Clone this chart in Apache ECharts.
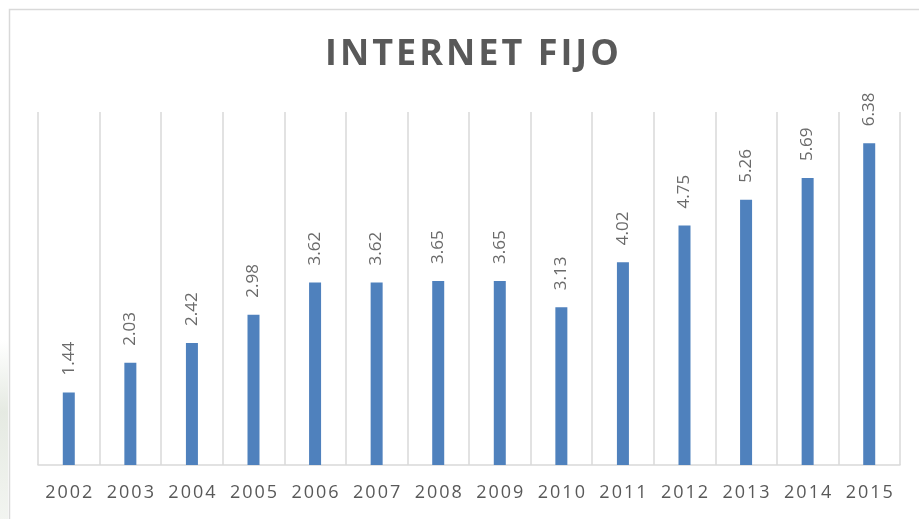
<!DOCTYPE html>
<html>
<head>
    <meta charset="utf-8">
    <title>Internet fijo</title>
    <script src="https://cdn.jsdelivr.net/npm/echarts@6/dist/echarts.min.js"></script>
    <style>
        html, body { margin: 0; padding: 0; background: #fff; }
        #chart { width: 919px; height: 519px; }
    </style>
</head>
<body>
    <div id="chart"></div>
    <script type="text/javascript">
        // datos
        var years = ['2002', '2003', '2004', '2005', '2006', '2007', '2008',
                     '2009', '2010', '2011', '2012', '2013', '2014', '2015'];
        var values = [1.44, 2.03, 2.42, 2.98, 3.62, 3.62, 3.65,
                      3.65, 3.13, 4.02, 4.75, 5.26, 5.69, 6.38];
        var titleText = 'INTERNET FIJO';

        // espaciado entre letras (rich text por caracter)
        var spaced = function (str, key) {
            return str.split('').map(function (ch) {
                return '{' + key + '|' + ch + '}';
            }).join('');
        };

        var myChart = echarts.init(document.getElementById('chart'));

        var option = {
            backgroundColor: '#ffffff',
            animation: false,
            title: {
                text: spaced(titleText, 'c'),
                left: 467,
                top: 32,
                textAlign: 'center',
                textStyle: {
                    fontFamily: 'Open Sans',
                    fontWeight: 'bold',
                    fontSize: 36,
                    color: '#595959',
                    rich: {
                        c: {
                            fontFamily: 'Open Sans',
                            fontWeight: 'bold',
                            fontSize: 36,
                            color: '#595959',
                            padding: [0, 1.5, 0, 1.5]
                        }
                    }
                }
            },
            grid: {
                left: 38,
                right: 19,
                top: 112,
                bottom: 54
            },
            xAxis: {
                type: 'category',
                data: years,
                axisLine: { lineStyle: { color: '#d9d9d9', width: 1.5 } },
                axisTick: { show: false },
                axisLabel: {
                    interval: 0,
                    margin: 19,
                    fontFamily: 'Open Sans',
                    fontSize: 18,
                    color: '#595959',
                    formatter: function (v) { return spaced(v, 'd'); },
                    rich: {
                        d: {
                            fontFamily: 'Open Sans',
                            fontSize: 18,
                            color: '#595959',
                            padding: [0, 1, 0, 1]
                        }
                    }
                },
                splitLine: {
                    show: true,
                    interval: 0,
                    lineStyle: { color: '#d9d9d9', width: 1.5 }
                }
            },
            yAxis: {
                type: 'value',
                min: 0,
                max: 7,
                show: false,
                splitLine: { show: false }
            },
            series: [
                {
                    name: 'Internet fijo',
                    type: 'bar',
                    data: values,
                    barWidth: 12,
                    itemStyle: { color: '#4f81bd' },
                    label: {
                        show: true,
                        position: 'top',
                        rotate: 90,
                        align: 'left',
                        verticalAlign: 'middle',
                        distance: 17,
                        fontFamily: 'Open Sans',
                        fontSize: 17,
                        color: '#6b6b6b',
                        formatter: function (p) { return p.value.toFixed(2); }
                    }
                }
            ],
            graphic: [
                {
                    type: 'rect',
                    shape: { x: 9.5, y: 9.5, width: 1000, height: 1000 },
                    style: { fill: 'none', stroke: '#d9d9d9', lineWidth: 1.5 },
                    silent: true
                },
                {
                    type: 'rect',
                    shape: { x: 0, y: 340, width: 8, height: 180 },
                    style: {
                        fill: {
                            type: 'linear', x: 0, y: 0, x2: 0, y2: 1,
                            colorStops: [
                                { offset: 0, color: 'rgba(170,185,160,0)' },
                                { offset: 0.4, color: 'rgba(170,185,160,0.3)' },
                                { offset: 1, color: 'rgba(170,185,160,0.15)' }
                            ]
                        }
                    },
                    silent: true
                }
            ]
        };

        myChart.setOption(option);
    </script>
</body>
</html>
